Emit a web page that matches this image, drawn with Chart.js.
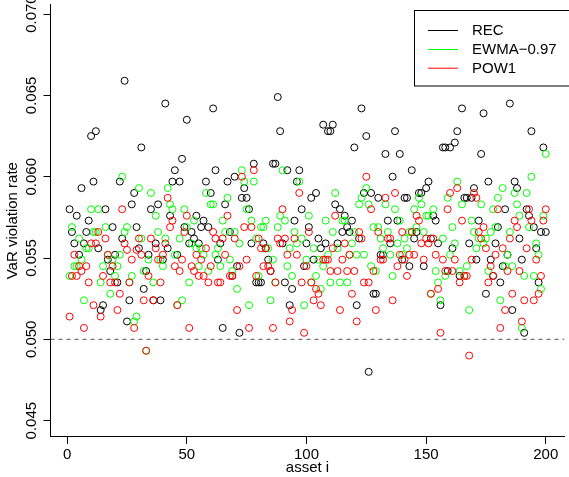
<!DOCTYPE html>
<html>
<head>
<meta charset="utf-8">
<script src="https://cdn.jsdelivr.net/npm/chart.js@4.4.0/dist/chart.umd.min.js"></script>
<style>
html, body { margin:0; padding:0; background:#fff; }
#wrap { width:569px; height:477px; }
</style>
</head>
<body>
<div id="wrap"><canvas id="myScatter" width="569" height="477"></canvas></div>
<script>
// asset index 1..200
var assets = [];
for (var k = 1; k <= 200; k++) assets.push(k);

var rec = [
0.0580,0.0566,0.0559,0.0576,0.0552,0.0593,0.0559,0.0566,0.0573,0.0625,
0.0597,0.0628,0.0556,0.0518,0.0521,0.0580,0.0549,0.0542,0.0569,0.0552,
0.0535,0.0597,0.0562,0.0659,0.0511,0.0524,0.0583,0.0590,0.0569,0.0556,
0.0618,0.0531,0.0542,0.0552,0.0580,0.0524,0.0559,0.0583,0.0524,0.0549,
0.0645,0.0556,0.0576,0.0597,0.0604,0.0552,0.0597,0.0611,0.0569,0.0635,
0.0559,0.0566,0.0562,0.0576,0.0559,0.0569,0.0573,0.0597,0.0569,0.0590,
0.0642,0.0604,0.0549,0.0559,0.0507,0.0583,0.0597,0.0566,0.0539,0.0600,
0.0545,0.0504,0.0587,0.0593,0.0587,0.0580,0.0559,0.0608,0.0535,0.0535,
0.0535,0.0559,0.0556,0.0549,0.0542,0.0608,0.0608,0.0649,0.0628,0.0559,
0.0535,0.0604,0.0521,0.0531,0.0573,0.0597,0.0604,0.0580,0.0545,0.0559,
0.0569,0.0587,0.0549,0.0590,0.0562,0.0556,0.0632,0.0559,0.0628,0.0628,
0.0632,0.0583,0.0559,0.0580,0.0566,0.0576,0.0569,0.0566,0.0573,0.0618,
0.0521,0.0562,0.0642,0.0590,0.0625,0.0480,0.0590,0.0528,0.0528,0.0587,
0.0552,0.0552,0.0614,0.0573,0.0559,0.0600,0.0628,0.0573,0.0614,0.0549,
0.0587,0.0587,0.0545,0.0604,0.0562,0.0566,0.0590,0.0590,0.0545,0.0593,
0.0597,0.0562,0.0576,0.0573,0.0559,0.0521,0.0618,0.0618,0.0542,0.0618,
0.0556,0.0621,0.0628,0.0539,0.0642,0.0587,0.0587,0.0559,0.0587,0.0593,
0.0549,0.0573,0.0614,0.0639,0.0528,0.0597,0.0549,0.0539,0.0559,0.0569,
0.0535,0.0545,0.0580,0.0552,0.0645,0.0518,0.0597,0.0593,0.0562,0.0549,
0.0504,0.0580,0.0576,0.0628,0.0569,0.0556,0.0535,0.0566,0.0618,0.0566
];

var ewma = [
0.0539,0.0569,0.0545,0.0545,0.0562,0.0549,0.0524,0.0556,0.0556,0.0580,
0.0566,0.0566,0.0580,0.0535,0.0545,0.0569,0.0552,0.0528,0.0549,0.0539,
0.0545,0.0552,0.0600,0.0566,0.0569,0.0535,0.0539,0.0511,0.0514,0.0593,
0.0562,0.0542,0.0493,0.0549,0.0590,0.0535,0.0576,0.0566,0.0549,0.0545,
0.0562,0.0593,0.0583,0.0580,0.0552,0.0521,0.0562,0.0524,0.0580,0.0569,
0.0535,0.0559,0.0573,0.0556,0.0545,0.0556,0.0552,0.0590,0.0542,0.0583,
0.0583,0.0552,0.0556,0.0545,0.0573,0.0566,0.0587,0.0549,0.0542,0.0566,
0.0531,0.0559,0.0604,0.0597,0.0580,0.0521,0.0573,0.0597,0.0562,0.0539,
0.0569,0.0569,0.0573,0.0556,0.0524,0.0549,0.0535,0.0569,0.0576,0.0604,
0.0573,0.0545,0.0556,0.0539,0.0566,0.0559,0.0597,0.0562,0.0521,0.0549,
0.0576,0.0535,0.0556,0.0539,0.0549,0.0531,0.0545,0.0573,0.0552,0.0535,
0.0566,0.0590,0.0556,0.0535,0.0573,0.0573,0.0535,0.0552,0.0559,0.0566,
0.0552,0.0583,0.0587,0.0552,0.0593,0.0583,0.0545,0.0569,0.0542,0.0569,
0.0562,0.0556,0.0583,0.0566,0.0552,0.0539,0.0580,0.0559,0.0573,0.0552,
0.0562,0.0556,0.0566,0.0566,0.0580,0.0569,0.0587,0.0583,0.0566,0.0576,
0.0576,0.0528,0.0580,0.0542,0.0535,0.0524,0.0562,0.0539,0.0587,0.0552,
0.0569,0.0559,0.0597,0.0542,0.0583,0.0539,0.0545,0.0518,0.0573,0.0566,
0.0556,0.0562,0.0583,0.0559,0.0562,0.0542,0.0566,0.0580,0.0569,0.0587,
0.0524,0.0593,0.0545,0.0552,0.0566,0.0545,0.0590,0.0583,0.0576,0.0507,
0.0539,0.0590,0.0569,0.0600,0.0539,0.0559,0.0552,0.0531,0.0576,0.0614
];

var pow1 = [
0.0514,0.0539,0.0552,0.0539,0.0545,0.0542,0.0507,0.0545,0.0535,0.0559,
0.0521,0.0559,0.0566,0.0514,0.0539,0.0562,0.0552,0.0535,0.0545,0.0535,
0.0518,0.0528,0.0580,0.0559,0.0555,0.0535,0.0549,0.0507,0.0555,0.0562,
0.0552,0.0524,0.0493,0.0539,0.0562,0.0524,0.0556,0.0549,0.0535,0.0552,
0.0559,0.0587,0.0569,0.0573,0.0545,0.0521,0.0542,0.0549,0.0566,0.0576,
0.0507,0.0545,0.0542,0.0552,0.0539,0.0549,0.0539,0.0556,0.0535,0.0545,
0.0566,0.0562,0.0535,0.0535,0.0562,0.0552,0.0576,0.0539,0.0539,0.0562,
0.0518,0.0545,0.0600,0.0569,0.0549,0.0507,0.0569,0.0604,0.0539,0.0562,
0.0556,0.0545,0.0556,0.0545,0.0542,0.0507,0.0535,0.0562,0.0559,0.0580,
0.0562,0.0552,0.0511,0.0518,0.0562,0.0552,0.0590,0.0535,0.0504,0.0545,
0.0566,0.0535,0.0524,0.0531,0.0528,0.0521,0.0549,0.0549,0.0549,0.0542,
0.0556,0.0576,0.0542,0.0518,0.0549,0.0559,0.0542,0.0552,0.0528,0.0542,
0.0511,0.0566,0.0562,0.0535,0.0600,0.0535,0.0580,0.0542,0.0518,0.0566,
0.0549,0.0549,0.0587,0.0562,0.0562,0.0524,0.0590,0.0545,0.0552,0.0566,
0.0549,0.0539,0.0552,0.0566,0.0552,0.0576,0.0573,0.0559,0.0549,0.0562,
0.0559,0.0528,0.0562,0.0552,0.0531,0.0504,0.0549,0.0542,0.0580,0.0590,
0.0542,0.0549,0.0593,0.0535,0.0573,0.0539,0.0539,0.0490,0.0549,0.0590,
0.0587,0.0566,0.0562,0.0569,0.0556,0.0535,0.0545,0.0539,0.0552,0.0580,
0.0507,0.0556,0.0518,0.0542,0.0562,0.0528,0.0573,0.0569,0.0542,0.0511,
0.0524,0.0556,0.0580,0.0573,0.0524,0.0549,0.0528,0.0539,0.0573,0.0580
];

var seriesNames = ["REC", "EWMA\u22120.97", "POW1"];
var seriesColors = ["#000000", "#00ff00", "#ff0000"];
var xTicks = [0, 50, 100, 150, 200];
var yTicks = [0.045, 0.050, 0.055, 0.060, 0.065, 0.070];
var refLevel = 0.05;

var fontFam = "'Liberation Sans', Arial, Helvetica, sans-serif";
var xMin = -6.96, xMax = 207.83;

function toPoints(vals){
  var out = [];
  for (var i = 0; i < vals.length; i++) out.push({x: assets[i], y: vals[i]});
  return out;
}

function scatterSet(idx, vals, ord){
  return {
    type: "scatter",
    label: seriesNames[idx],
    data: toPoints(vals),
    borderColor: seriesColors[idx],
    backgroundColor: "rgba(0,0,0,0)",
    pointStyle: "circle",
    pointRadius: 3.5,
    pointBorderWidth: 1,
    pointHoverRadius: 3.5,
    order: ord
  };
}

// R style legend box, top right
var legendBox = {
  id: "legendBox",
  afterDraw: function(chart){
    var ctx = chart.ctx;
    ctx.save();
    ctx.strokeStyle = "#000";
    ctx.lineWidth = 1;
    ctx.strokeRect(414.5, 10.5, 170, 75.5);
    ctx.font = "15px " + fontFam;
    ctx.textBaseline = "middle";
    ctx.textAlign = "left";
    var rows = [30, 49, 67.7];
    for (var i = 0; i < seriesNames.length; i++) {
      ctx.strokeStyle = seriesColors[i];
      ctx.beginPath();
      ctx.moveTo(428, rows[i] + 0.5);
      ctx.lineTo(458, rows[i] + 0.5);
      ctx.stroke();
      ctx.fillStyle = "#000";
      ctx.fillText(seriesNames[i], 472, rows[i] + 1);
    }
    ctx.restore();
  }
};

var ctxS = document.getElementById("myScatter").getContext("2d");
var violChart = new Chart(ctxS, {
  data: {
    datasets: [
      scatterSet(0, rec, 3),
      scatterSet(1, ewma, 2),
      scatterSet(2, pow1, 1),
      {
        type: "line",
        label: "ref",
        data: [{x: xMin, y: refLevel}, {x: xMax, y: refLevel}],
        borderColor: "#555555",
        borderWidth: 1,
        borderDash: [4, 4],
        pointRadius: 0,
        order: 0
      }
    ]
  },
  options: {
    responsive: false,
    devicePixelRatio: 1,
    animation: false,
    events: [],
    layout: { padding: 0 },
    plugins: {
      legend: { display: false },
      tooltip: { enabled: false }
    },
    scales: {
      x: {
        type: "linear",
        position: "bottom",
        min: xMin,
        max: xMax,
        afterBuildTicks: function(s){ s.ticks = xTicks.map(function(v){ return {value: v}; }); },
        afterFit: function(s){ s.height = 40.1; },
        grid: { drawOnChartArea: false, drawTicks: true, tickLength: 7, color: "#000", tickColor: "#000" },
        border: { display: true, color: "#000", width: 1 },
        ticks: {
          color: "#000", font: { family: fontFam, size: 15 }, padding: 2,
          maxRotation: 0, autoSkip: false,
          callback: function(v){ return String(v); }
        },
        title: {
          display: true, text: "asset i", color: "#000",
          font: { family: fontFam, size: 15 }, padding: { top: 0, bottom: 0 }
        }
      },
      y: {
        type: "linear",
        position: "left",
        min: 0.0440,
        max: 0.07059,
        afterBuildTicks: function(s){ s.ticks = yTicks.map(function(v){ return {value: v}; }); },
        afterFit: function(s){ s.width = 50.5; },
        grid: { drawOnChartArea: false, drawTicks: true, tickLength: 7, color: "#000", tickColor: "#000" },
        border: { display: true, color: "#000", width: 1 },
        ticks: {
          color: "#000", font: { family: fontFam, size: 15 },
          minRotation: 90, maxRotation: 90, crossAlign: "center", padding: -7,
          callback: function(v){ return v.toFixed(3); }
        },
        title: {
          display: true, text: "VaR violation rate", color: "#000",
          font: { family: fontFam, size: 15 }, padding: { top: 4, bottom: 0 }
        }
      }
    }
  },
  plugins: [legendBox]
});
</script>
</body>
</html>
